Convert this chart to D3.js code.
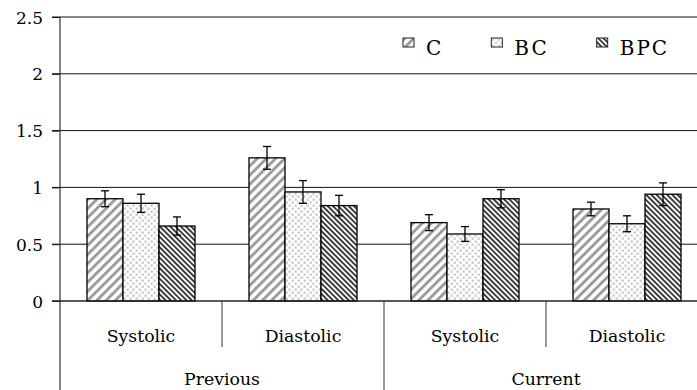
<html>
<head>
<script src="https://cdnjs.cloudflare.com/ajax/libs/d3/7.8.5/d3.min.js"></script>
<style>
    body {
        margin: 0;
        background: white;
    }
</style>
</head>
<body>
    <svg id="Chart" font-family="DejaVu Serif"></svg>
</body>
<script>
    // data
    let periods = ["Previous", "Current"];
    let measures = ["Systolic", "Diastolic"];
    let seriesNames = ["C", "BC", "BPC"];

    // one value per (period, measure): Prev-Sys, Prev-Dia, Cur-Sys, Cur-Dia
    let cValues = [0.90, 1.26, 0.69, 0.81];
    let cErrors = [0.07, 0.10, 0.07, 0.06];
    let bcValues = [0.86, 0.96, 0.59, 0.68];
    let bcErrors = [0.08, 0.10, 0.065, 0.07];
    let bpcValues = [0.66, 0.84, 0.90, 0.94];
    let bpcErrors = [0.08, 0.09, 0.08, 0.10];

    let yTicks = [0, 0.5, 1, 1.5, 2, 2.5];
    let yTickLabels = ["0", "0.5", "1", "1.5", "2", "2.5"];

    let serif = "DejaVu Serif";

    // build rows
    function buildRows() {
        let keys = [];
        periods.forEach(p => measures.forEach(m => keys.push(p + "|" + m)));
        let values = { C: cValues, BC: bcValues, BPC: bpcValues };
        let errors = { C: cErrors, BC: bcErrors, BPC: bpcErrors };
        let rows = [];
        keys.forEach((k, i) => {
            seriesNames.forEach(s => {
                rows.push({ key: k, series: s, value: values[s][i], error: errors[s][i] });
            });
        });
        return { keys, rows };
    }

    function getConfig() {
        let width = 697;
        let height = 390;
        // plot runs past the right edge of the picture, as in the original
        let margin = { top: 17, left: 60, right: -11, bottom: 89 };
        let container = d3.select("#Chart")
            .attr("width", width)
            .attr("height", height);
        return { width, height, margin, container };
    }

    function getScales(keys, config) {
        let { width, height, margin } = config;
        let xScale = d3.scaleBand()
            .domain(keys)
            .range([margin.left, width - margin.right])
            .padding(0);
        let innerScale = d3.scaleBand()
            .domain(seriesNames)
            .range([0, xScale.bandwidth()])
            .paddingInner(0)
            .paddingOuter(0.75);
        let yScale = d3.scaleLinear()
            .domain([0, 2.5])
            .range([height - margin.bottom, margin.top]);
        let periodScale = d3.scaleBand()
            .domain(periods)
            .range([margin.left, width - margin.right]);
        return { xScale, innerScale, yScale, periodScale };
    }

    function addPatterns(container) {
        let defs = container.append("defs");

        let pc = defs.append("pattern")
            .attr("id", "pat-C")
            .attr("patternUnits", "userSpaceOnUse")
            .attr("width", 6.5).attr("height", 6.5)
            .attr("patternTransform", "rotate(45)");
        pc.append("rect").attr("width", 6.5).attr("height", 6.5).attr("fill", "white");
        pc.append("rect").attr("width", 2.9).attr("height", 6.5).attr("fill", "#9c9c9c");

        let pbc = defs.append("pattern")
            .attr("id", "pat-BC")
            .attr("patternUnits", "userSpaceOnUse")
            .attr("width", 6).attr("height", 6);
        pbc.append("rect").attr("width", 6).attr("height", 6).attr("fill", "white");
        pbc.append("rect").attr("x", 0.5).attr("y", 0.5).attr("width", 2.3).attr("height", 2.3).attr("fill", "#c9c9c9");
        pbc.append("rect").attr("x", 3.5).attr("y", 3.5).attr("width", 2.3).attr("height", 2.3).attr("fill", "#c9c9c9");

        let pbpc = defs.append("pattern")
            .attr("id", "pat-BPC")
            .attr("patternUnits", "userSpaceOnUse")
            .attr("width", 3.7).attr("height", 3.7)
            .attr("patternTransform", "rotate(-45)");
        pbpc.append("rect").attr("width", 3.7).attr("height", 3.7).attr("fill", "white");
        pbpc.append("rect").attr("width", 1.9).attr("height", 3.7).attr("fill", "#3a3a3a");
    }

    function drawGrid(scales, config) {
        let { yScale } = scales;
        let { container, width, margin } = config;
        let grid = container.append("g");
        grid.selectAll("line")
            .data(yTicks.filter(t => t > 0))
            .enter().append("line")
            .attr("x1", margin.left - 8)
            .attr("x2", width)
            .attr("y1", d => yScale(d))
            .attr("y2", d => yScale(d))
            .attr("stroke", "#111")
            .attr("stroke-width", 1);
    }

    function drawBars(rows, scales, config) {
        let { xScale, innerScale, yScale } = scales;
        let { container } = config;
        let body = container.append("g");

        body.selectAll("rect")
            .data(rows)
            .enter().append("rect")
            .attr("x", d => xScale(d.key) + innerScale(d.series))
            .attr("width", innerScale.bandwidth())
            .attr("y", d => yScale(d.value))
            .attr("height", d => yScale(0) - yScale(d.value))
            .attr("fill", d => "url(#pat-" + d.series + ")")
            .attr("stroke", "#000")
            .attr("stroke-width", 1.3);

        // error bars
        let cap = 4;
        let err = body.selectAll(".err")
            .data(rows)
            .enter().append("g")
            .attr("class", "err")
            .attr("stroke", "#000")
            .attr("stroke-width", 1.3);
        let cx = d => xScale(d.key) + innerScale(d.series) + innerScale.bandwidth() / 2;
        err.append("line")
            .attr("x1", cx).attr("x2", cx)
            .attr("y1", d => yScale(d.value + d.error))
            .attr("y2", d => yScale(d.value - d.error));
        err.append("line")
            .attr("x1", d => cx(d) - cap).attr("x2", d => cx(d) + cap)
            .attr("y1", d => yScale(d.value + d.error))
            .attr("y2", d => yScale(d.value + d.error));
        err.append("line")
            .attr("x1", d => cx(d) - cap).attr("x2", d => cx(d) + cap)
            .attr("y1", d => yScale(d.value - d.error))
            .attr("y2", d => yScale(d.value - d.error));
    }

    function drawAxes(keys, scales, config) {
        let { xScale, yScale, periodScale } = scales;
        let { container, margin, height, width } = config;

        // y axis
        let axisY = d3.axisLeft(yScale)
            .tickValues(yTicks)
            .tickFormat((d, i) => yTickLabels[i])
            .tickSizeOuter(0)
            .tickSize(8)
            .tickPadding(0);
        let gy = container.append("g")
            .attr("transform", `translate(${margin.left},0)`)
            .call(axisY)
            .attr("font-family", serif)
            .attr("font-size", 17);
        gy.select(".domain").remove();
        gy.selectAll("line").attr("stroke", "#111");
        gy.selectAll("text")
            .attr("x", -17)
            .attr("dy", null)
            .attr("y", 6);

        let y0 = yScale(0);
        let row = 46;

        // left axis line down to the bottom
        container.append("line")
            .attr("x1", margin.left).attr("x2", margin.left)
            .attr("y1", yScale(2.5)).attr("y2", height)
            .attr("stroke", "#333").attr("stroke-width", 1.2);
        // base line
        container.append("line")
            .attr("x1", margin.left - 8).attr("x2", width)
            .attr("y1", y0).attr("y2", y0)
            .attr("stroke", "#222").attr("stroke-width", 1.3);

        // inner dividers between measures
        let inner = keys.slice(1);
        container.append("g").selectAll("line")
            .data(inner)
            .enter().append("line")
            .attr("x1", d => xScale(d)).attr("x2", d => xScale(d))
            .attr("y1", y0)
            .attr("y2", d => d.endsWith("Systolic") ? height : y0 + row)
            .attr("stroke", "#333").attr("stroke-width", 1);

        // measure labels
        container.append("g")
            .attr("font-family", serif)
            .attr("font-size", 17.3)
            .selectAll("text")
            .data(keys)
            .enter().append("text")
            .attr("x", d => xScale(d) + xScale.bandwidth() / 2)
            .attr("y", y0 + 41)
            .attr("text-anchor", "middle")
            .text(d => d.split("|")[1]);

        // period labels
        container.append("g")
            .attr("font-family", serif)
            .attr("font-size", 17.3)
            .selectAll("text")
            .data(periods)
            .enter().append("text")
            .attr("x", d => periodScale(d) + periodScale.bandwidth() / 2)
            .attr("y", y0 + 84)
            .attr("text-anchor", "middle")
            .text(d => d);
    }

    function drawLegend(config) {
        let { container } = config;
        let legend = container.append("g")
            .attr("font-family", serif)
            .attr("font-size", 20);
        let x = 403;
        seriesNames.forEach(s => {
            let item = legend.append("g").attr("transform", `translate(${x},38)`);
            item.append("rect")
                .attr("width", 11).attr("height", 9)
                .attr("fill", "url(#pat-" + s + ")")
                .attr("stroke", "#222").attr("stroke-width", 1);
            let t = item.append("text")
                .attr("x", 23)
                .attr("y", 17)
                .attr("letter-spacing", 2)
                .text(s);
            x += 23 + t.node().getComputedTextLength() + 48;
        });
    }

    function showData() {
        let { keys, rows } = buildRows();
        let config = getConfig();
        let scales = getScales(keys, config);
        addPatterns(config.container);
        drawGrid(scales, config);
        drawBars(rows, scales, config);
        drawAxes(keys, scales, config);
        drawLegend(config);
    }

    showData();
</script>
</html>
